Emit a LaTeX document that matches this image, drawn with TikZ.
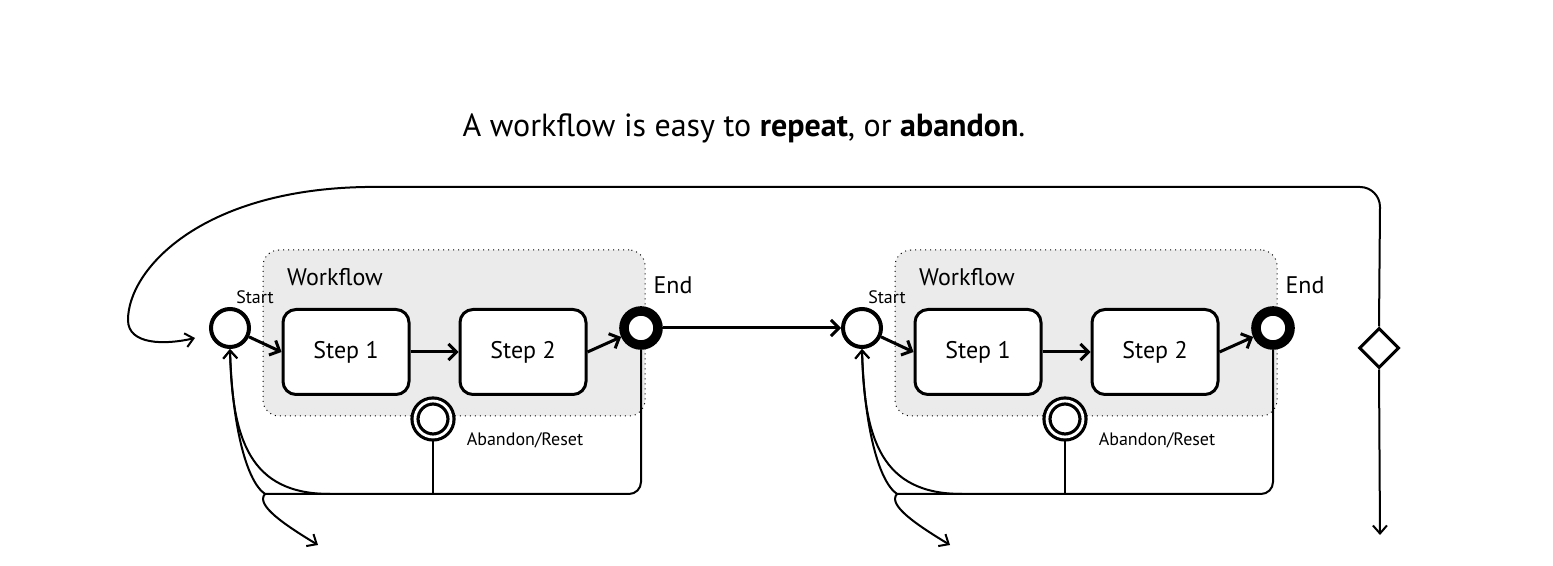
\documentclass[tikz,border=0pt]{standalone}
\usepackage{fontspec}
\setmainfont{PT Sans}
\usetikzlibrary{positioning, arrows.meta, shapes.geometric}

\begin{document}
\begin{tikzpicture}[
    x=0.5pt, y=-0.5pt,
    group/.style={
        draw, 
        dotted, 
        fill=black!8, 
        rounded corners=8pt, 
        minimum width=191pt, 
        minimum height=83pt, 
        line width=0.5pt
    },
    stepbox/.style={
        draw, 
        fill=white, 
        rounded corners=6.5pt, 
        minimum width=63pt, 
        minimum height=42.5pt, 
        line width=1.5pt, 
        font=\fontsize{12}{14}\selectfont
    },
    startnode/.style={draw, circle, fill=white, minimum size=19pt, inner sep=0pt, line width=2pt},
    endnode/.style={draw, circle, fill=white, minimum size=17pt, inner sep=0pt, line width=4.8pt},
    resetnode/.style={draw, circle, fill=white, minimum size=18pt, inner sep=0pt, line width=1.6pt, double, double distance=1.4pt},
    choice/.style={draw, diamond, fill=white, minimum width=20pt, minimum height=20pt, inner sep=0pt, line width=1.5pt},
    title/.style={font=\fontsize{12}{14}\selectfont, inner sep=0pt},
    tag/.style={font=\fontsize{9}{11}\selectfont, inner sep=0pt},
    arrow/.style={
        -{Straight Barb[length=4pt, width=8pt]}, 
        line width=1.5pt
    },
    flow/.style={line width=1pt},
    flowarrow/.style={flow, -{Straight Barb[length=4pt, width=7pt]}}
]
\useasboundingbox (0,0) rectangle (1553,566);

% Heading
\node (head) at (744,128) [font=\fontsize{16}{19}\selectfont] {A workflow is easy to \textbf{repeat}, or \textbf{abandon}.};

% First workflow
\node (g1) at (454,333) [group] {};
\node (w1) at (335,277) [title] {Workflow};
\node (s1) at (230,328) [startnode] {};
\node (st1) at (255,297) [tag] {Start};
\node (p1) at (346,352) [stepbox] {Step 1};
\node (p2) at (523,352) [stepbox] {Step 2};
\node (e1) at (641,328) [endnode] {};
\node (en1) at (673,285) [title] {End};
\node (r1) at (433,419) [resetnode] {};
\node (ab1) at (525,440) [tag] {Abandon/Reset};
\coordinate (j1) at (265,494);
\coordinate (k1) at (330,494);
\coordinate (x1) at (318,545);

% Second workflow
\node (g2) at (1086,333) [group] {};
\node (w2) at (967,277) [title] {Workflow};
\node (s2) at (862,328) [startnode] {};
\node (st2) at (887,297) [tag] {Start};
\node (p3) at (978,352) [stepbox] {Step 1};
\node (p4) at (1155,352) [stepbox] {Step 2};
\node (e2) at (1273,328) [endnode] {};
\node (en2) at (1305,285) [title] {End};
\node (r2) at (1065,419) [resetnode] {};
\node (ab2) at (1157,440) [tag] {Abandon/Reset};
\coordinate (j2) at (897,494);
\coordinate (k2) at (962,494);
\coordinate (x2) at (950,545);

% Decision on the right
\node (d) at (1379,348) [choice] {};
\coordinate (t1) at (195,338);
\coordinate (x3) at (1380,535);

% Steps (L -> R)
\draw [arrow] (s1) -- (p1.west);
\draw [arrow] (p1) -- (p2);
\draw [arrow] (p2.east) -- (e1);
\draw [arrow] (e1) -- (s2);
\draw [arrow] (s2) -- (p3.west);
\draw [arrow] (p3) -- (p4);
\draw [arrow] (p4.east) -- (e2);

% Repeat / abandon loops
\draw [flow, rounded corners=6pt] (e1.south) |- (j1);
\draw [flow] (r1.south) -- (r1.south |- j1);
\draw [flowarrow] (k1) .. controls (250,494) and (232,440) .. (s1.south);
\draw [flowarrow] (j1) .. controls (245,480) and (232,420) .. (s1.south);
\draw [flowarrow] (j1) .. controls (255,505) and (285,525) .. (x1);

\draw [flow, rounded corners=6pt] (e2.south) |- (j2);
\draw [flow] (r2.south) -- (r2.south |- j2);
\draw [flowarrow] (k2) .. controls (882,494) and (864,440) .. (s2.south);
\draw [flowarrow] (j2) .. controls (877,480) and (864,420) .. (s2.south);
\draw [flowarrow] (j2) .. controls (887,505) and (917,525) .. (x2);

% Back to the first start
\draw [flowarrow] (d.north) -- (1380,207) to[out=90, in=0] (1360,187) -- (365,187)
    .. controls (200,190) and (128,270) .. (128,320)
    .. controls (128,345) and (165,345) .. (t1);
\draw [flowarrow] (d.south) -- (x3);

\end{tikzpicture}
\end{document}
